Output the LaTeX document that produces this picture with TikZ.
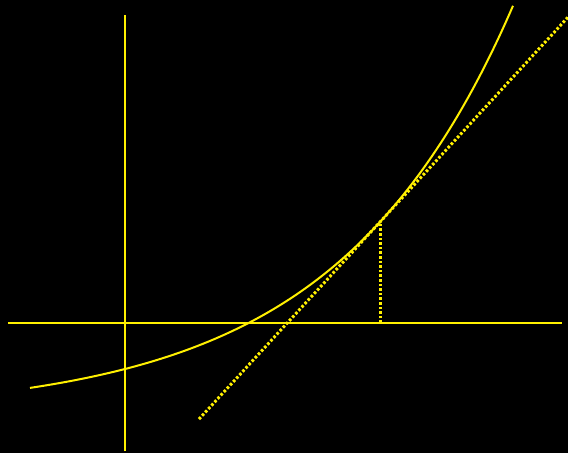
\documentclass[tikz,border=0pt]{standalone}
\usetikzlibrary{calc}
\definecolor{bg}{HTML}{000000}
\definecolor{plot}{HTML}{FFF000}

\begin{document}
\begin{tikzpicture}[
  x=1pt, y=1pt,
  axis/.style={draw=plot, line width=2pt},
  graph/.style={draw=plot, line width=2pt},
  dotline/.style={draw=plot, line width=3pt, dash pattern=on 2.6pt off 2pt},
]
% ---- background ----
\fill[bg] (-125,-130) rectangle (443,323);
\useasboundingbox (-125,-130) rectangle (443,323);

% ---- axes ----
\coordinate (O) at (0,0);
\coordinate (xl) at (-117,0);
\coordinate (xr) at (437,0);
\coordinate (yb) at (0,-128);
\coordinate (yt) at (0,308);
\draw[axis] (xl) -- (xr);
\draw[axis] (yb) -- (yt);

% ---- the curve ----
\draw[graph] plot[domain=-95:388, samples=120, smooth] (\x, {45.44*exp(0.00566*\x)-91.44});

% ---- tangent at T, and the drop to the axis ----
\coordinate (T) at (255,101);
\coordinate (F) at (255,0);
\coordinate (ta) at (74,-96.1);
\coordinate (tb) at (443,305.8);
\draw[dotline] (ta) -- (tb);
\draw[dotline] (F) -- (T);
\end{tikzpicture}
\end{document}
